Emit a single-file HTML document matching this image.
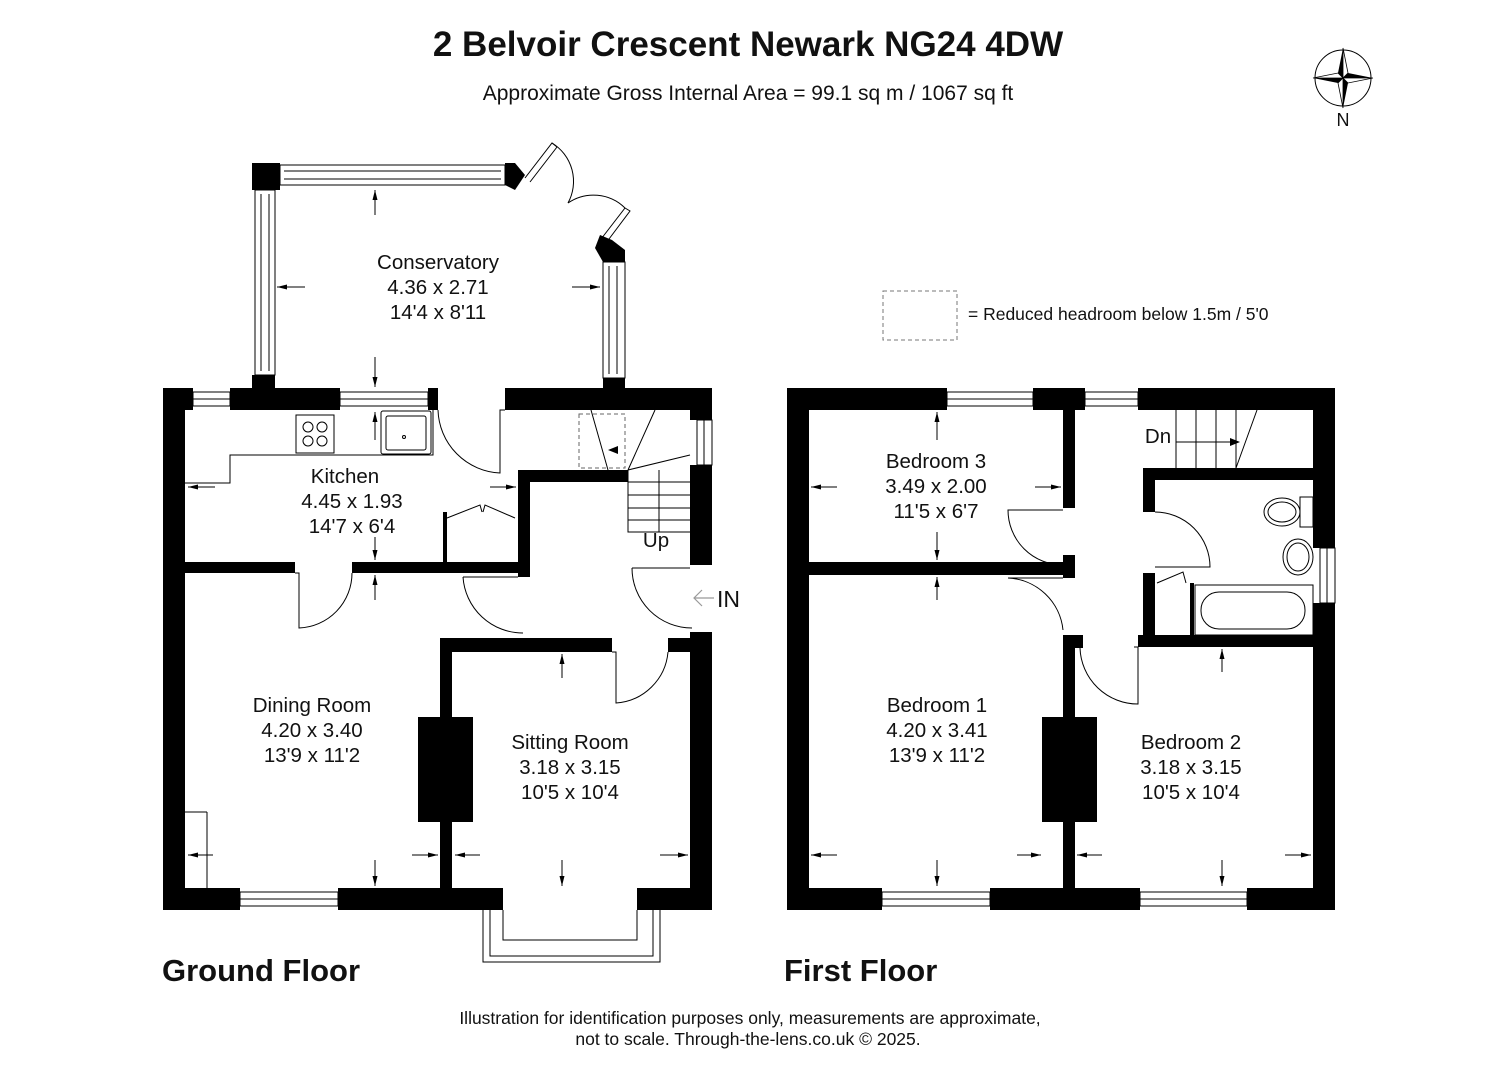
<!DOCTYPE html>
<html><head><meta charset="utf-8"><style>
html,body{margin:0;padding:0;background:#fff}
svg{display:block}
text{font-family:"Liberation Sans",Arial,sans-serif;fill:#111}
</style></head><body>
<svg width="1495" height="1080" viewBox="0 0 1495 1080" xmlns="http://www.w3.org/2000/svg">
<defs>
<marker id="a" viewBox="0 0 10 10" refX="10" refY="5" markerWidth="10" markerHeight="10" markerUnits="userSpaceOnUse" orient="auto-start-reverse"><path d="M0,2.5 L10,5 L0,7.5 z" fill="#000"/></marker>
</defs>
<rect width="1495" height="1080" fill="#fff"/>
<text x="748" y="56" font-size="35" font-weight="bold" text-anchor="middle">2 Belvoir Crescent Newark NG24 4DW</text>
<text x="748" y="100" font-size="21" text-anchor="middle">Approximate Gross Internal Area = 99.1 sq m / 1067 sq ft</text>
<g transform="translate(1343,78)">
<circle r="28" fill="none" stroke="#000" stroke-width="1"/>
<path d="M0,-30 L5,-5 L30,0 L5,5 L0,30 L-5,5 L-30,0 L-5,-5 z" fill="#000"/>
<path d="M0,-30 L5,-5 L0,0 z M30,0 L5,5 L0,0 z M0,30 L-5,5 L0,0 z M-30,0 L-5,-5 L0,0z" fill="#fff" stroke="#000" stroke-width="0.8"/>
</g>
<text x="1343" y="126" font-size="18" text-anchor="middle">N</text>
<rect x="883" y="291" width="74" height="49" fill="none" stroke="#777" stroke-dasharray="4,3"/>
<text x="968" y="320" font-size="17.5">= Reduced headroom below 1.5m / 5'0</text>

<g fill="#000">
<rect x="163" y="388" width="30" height="22"/>
<rect x="230" y="388" width="110" height="22"/>
<rect x="428" y="388" width="10" height="22"/>
<rect x="505" y="388" width="207" height="22"/>
<rect x="163" y="388" width="22" height="522"/>
<rect x="690" y="388" width="22" height="32"/>
<rect x="690" y="465" width="22" height="100"/>
<rect x="690" y="632" width="22" height="278"/>
<rect x="163" y="888" width="77" height="22"/>
<rect x="338" y="888" width="165" height="22"/>
<rect x="637" y="888" width="75" height="22"/>
<rect x="163" y="562" width="132" height="11"/>
<rect x="352" y="562" width="178" height="11"/>
<rect x="518" y="470" width="110" height="12"/>
<rect x="518" y="470" width="12" height="107"/>
<rect x="443" y="512" width="4" height="50"/>
<rect x="440" y="638" width="172" height="14"/>
<rect x="668" y="638" width="44" height="14"/>
<rect x="440" y="638" width="12" height="250"/>
<rect x="418" y="717" width="55" height="105"/>
<rect x="252" y="163" width="28" height="27"/>
<path d="M505,163 L515,163 L525,175 L515,190 L505,185 z"/>
<path d="M600,235 L612,240 L625,250 L625,262 L603,262 L595,248 z"/>
<rect x="252" y="375" width="23" height="15"/>
<rect x="603" y="378" width="22" height="12"/>
<rect x="787" y="388" width="160" height="22"/>
<rect x="1033" y="388" width="52" height="22"/>
<rect x="1138" y="388" width="197" height="22"/>
<rect x="787" y="388" width="22" height="522"/>
<rect x="1313" y="388" width="22" height="160"/>
<rect x="1313" y="603" width="22" height="307"/>
<rect x="787" y="888" width="95" height="22"/>
<rect x="990" y="888" width="150" height="22"/>
<rect x="1247" y="888" width="88" height="22"/>
<rect x="1063" y="410" width="12" height="98"/>
<rect x="1063" y="555" width="12" height="23"/>
<rect x="809" y="562" width="266" height="13"/>
<rect x="1143" y="468" width="192" height="12"/>
<rect x="1143" y="480" width="12" height="32"/>
<rect x="1143" y="573" width="12" height="70"/>
<rect x="1190" y="583" width="4" height="52"/>
<rect x="1138" y="635" width="197" height="12"/>
<rect x="1063" y="635" width="20" height="13"/>
<rect x="1063" y="635" width="12" height="253"/>
<rect x="1042" y="717" width="55" height="105"/>
</g>

<g fill="none" stroke="#000" stroke-width="1">
<rect x="193" y="392" width="37" height="14"/><line x1="193" y1="399" x2="230" y2="399"/>
<rect x="340" y="392" width="88" height="14"/><line x1="340" y1="399" x2="428" y2="399"/>
<rect x="240" y="892" width="98" height="14"/><line x1="240" y1="899" x2="338" y2="899"/>
<rect x="697" y="420" width="15" height="45"/><line x1="704" y1="420" x2="704" y2="465"/>
<rect x="280" y="165" width="225" height="20"/><line x1="284" y1="171" x2="501" y2="171"/><line x1="284" y1="179" x2="501" y2="179"/>
<rect x="255" y="190" width="20" height="185"/><line x1="261" y1="194" x2="261" y2="371"/><line x1="269" y1="194" x2="269" y2="371"/>
<rect x="603" y="262" width="22" height="116"/><line x1="609" y1="266" x2="609" y2="374"/><line x1="617" y1="266" x2="617" y2="374"/>
<path d="M483,910 L483,962 L660,962 L660,910"/>
<path d="M490,910 L490,956 L653,956 L653,910"/>
<path d="M503,910 L503,940 L637,940 L637,910"/>
<path d="M525,178 L552,143 L557,147 L530,182"/>
<path d="M552,143 A45,45 0 0 1 568,203"/>
<path d="M598,243 L625,208 L630,211 L603,247"/>
<path d="M625,208 A45,45 0 0 0 568,203"/>
<path d="M438,410 A65,65 0 0 0 500,473 L500,410 L505,410"/>
<path d="M295,573 L299,573 L299,628 A55,55 0 0 0 352,573"/>
<path d="M463,577 L518,577 M463,577 A60,60 0 0 0 523,633"/>
<path d="M632,568 L690,568 M632,568 A60,60 0 0 0 692,628"/>
<path d="M612,652 L616,652 L616,703 A56,56 0 0 0 668,652"/>
<path d="M447,518 L480,505 L482,512 M515,518 L485,505 L483,512"/>
<path d="M185,483 L230,483 L230,455 L433,455 L433,410"/>
<rect x="296" y="415" width="38" height="38"/>
<circle cx="308" cy="427" r="5"/><circle cx="322" cy="427" r="5"/><circle cx="308" cy="441" r="5"/><circle cx="322" cy="441" r="5"/>
<rect x="381" y="411" width="50" height="43" rx="2"/><rect x="386" y="416" width="40" height="34" rx="2"/><circle cx="404" cy="437" r="1.5"/>
<line x1="185" y1="812" x2="207" y2="812"/><line x1="207" y1="812" x2="207" y2="888"/>
<rect x="579" y="414" width="46" height="54" stroke="#666" stroke-dasharray="4,3"/>
<path d="M591,410 L608,470 M655,410 L628,470"/>
<path d="M628,470 L628,532 L690,532 M628,482 L690,482 M628,495 L690,495 M628,508 L690,508 M628,520 L690,520 M659,470 L659,532 M628,470 L690,455"/>
<rect x="947" y="392" width="86" height="14"/><line x1="947" y1="399" x2="1033" y2="399"/>
<rect x="1085" y="392" width="53" height="14"/><line x1="1085" y1="399" x2="1138" y2="399"/>
<rect x="882" y="892" width="108" height="14"/><line x1="882" y1="899" x2="990" y2="899"/>
<rect x="1140" y="892" width="107" height="14"/><line x1="1140" y1="899" x2="1247" y2="899"/>
<rect x="1320" y="548" width="15" height="55"/><line x1="1327" y1="548" x2="1327" y2="603"/>
<path d="M1063,510 L1008,510 A55,55 0 0 0 1063,565"/>
<path d="M1063,578 L1008,578 A58,58 0 0 1 1063,630"/>
<path d="M1155,512 A55,55 0 0 1 1210,567 L1155,567"/>
<path d="M1134,647 L1138,647 L1138,704 A58,58 0 0 1 1080,648"/>
<path d="M1157,583 L1183,572 L1186,583"/>
<path d="M1176,410 L1176,468 M1196,410 L1196,468 M1216,410 L1216,468 M1236,410 L1236,468 L1257,410 M1176,442 L1230,442"/>
<ellipse cx="1282" cy="512" rx="18" ry="14"/><ellipse cx="1282" cy="512" rx="14" ry="10"/><rect x="1300" y="497" width="13" height="30"/>
<ellipse cx="1298" cy="557" rx="15" ry="18"/><ellipse cx="1298" cy="557" rx="11" ry="14"/>
<rect x="1195" y="585" width="118" height="50"/><rect x="1201" y="592" width="104" height="37" rx="18"/>
</g>
<polygon points="1230,438 1240,442 1230,446" fill="#000"/>
<polygon points="618,446 608,450 618,454" fill="#000"/>

<g stroke="#000" stroke-width="1" marker-end="url(#a)">
<line x1="375" y1="215" x2="375" y2="190"/><line x1="375" y1="357" x2="375" y2="387"/>
<line x1="305" y1="287" x2="277" y2="287"/><line x1="572" y1="287" x2="600" y2="287"/>
<line x1="375" y1="440" x2="375" y2="412"/><line x1="375" y1="537" x2="375" y2="560"/>
<line x1="215" y1="487" x2="188" y2="487"/><line x1="490" y1="487" x2="516" y2="487"/>
<line x1="375" y1="600" x2="375" y2="575"/>
<line x1="375" y1="860" x2="375" y2="886"/>
<line x1="213" y1="855" x2="188" y2="855"/><line x1="412" y1="855" x2="438" y2="855"/>
<line x1="480" y1="855" x2="455" y2="855"/><line x1="660" y1="855" x2="688" y2="855"/>
<line x1="562" y1="678" x2="562" y2="654"/><line x1="562" y1="860" x2="562" y2="886"/>
<line x1="937" y1="440" x2="937" y2="412"/><line x1="937" y1="532" x2="937" y2="560"/>
<line x1="837" y1="487" x2="811" y2="487"/><line x1="1035" y1="487" x2="1061" y2="487"/>
<line x1="937" y1="600" x2="937" y2="577"/><line x1="937" y1="860" x2="937" y2="886"/>
<line x1="837" y1="855" x2="811" y2="855"/><line x1="1017" y1="855" x2="1041" y2="855"/>
<line x1="1102" y1="855" x2="1077" y2="855"/><line x1="1285" y1="855" x2="1311" y2="855"/>
<line x1="1222" y1="672" x2="1222" y2="649"/><line x1="1222" y1="860" x2="1222" y2="886"/>
</g>
<path d="M714,598 L694,598 M702,590 L694,598 L702,606" fill="none" stroke="#999" stroke-width="1.2"/>
<text x="717" y="607" font-size="23">IN</text>

<g font-size="20.5" text-anchor="middle">
<text x="438" y="269">Conservatory</text><text x="438" y="294">4.36 x 2.71</text><text x="438" y="319">14'4 x 8'11</text>
<text x="345" y="483">Kitchen</text><text x="352" y="508">4.45 x 1.93</text><text x="352" y="533">14'7 x 6'4</text>
<text x="312" y="712">Dining Room</text><text x="312" y="737">4.20 x 3.40</text><text x="312" y="762">13'9 x 11'2</text>
<text x="570" y="749">Sitting Room</text><text x="570" y="774">3.18 x 3.15</text><text x="570" y="799">10'5 x 10'4</text>
<text x="656" y="547">Up</text>
<text x="936" y="468">Bedroom 3</text><text x="936" y="493">3.49 x 2.00</text><text x="936" y="518">11'5 x 6'7</text>
<text x="937" y="712">Bedroom 1</text><text x="937" y="737">4.20 x 3.41</text><text x="937" y="762">13'9 x 11'2</text>
<text x="1191" y="749">Bedroom 2</text><text x="1191" y="774">3.18 x 3.15</text><text x="1191" y="799">10'5 x 10'4</text>
<text x="1158" y="443">Dn</text>
</g>
<text x="162" y="981" font-size="31" font-weight="bold">Ground Floor</text>
<text x="784" y="981" font-size="31" font-weight="bold">First Floor</text>
<text x="750" y="1024" font-size="17.5" text-anchor="middle">Illustration for identification purposes only, measurements are approximate,</text>
<text x="748" y="1045" font-size="17.5" text-anchor="middle">not to scale. Through-the-lens.co.uk © 2025.</text>
</svg>
</body></html>
